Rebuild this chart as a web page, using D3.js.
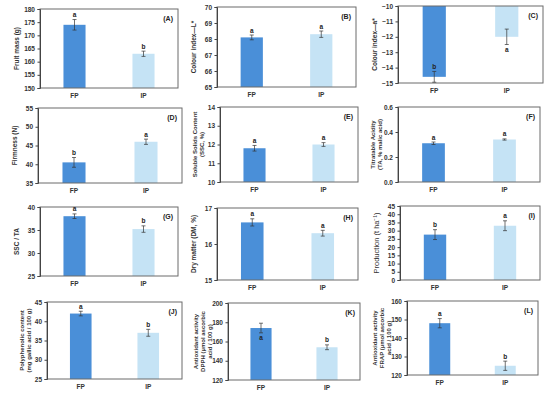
<!DOCTYPE html>
<html>
<head>
<meta charset="utf-8">
<script src="https://cdn.jsdelivr.net/npm/d3@7"></script>
<style>
  body { margin: 0; background: #fff; }
  svg { font-family: "Liberation Sans", Arial, sans-serif; }
</style>
</head>
<body>
<svg id="chart" width="550" height="400"></svg>
<script>
// categories and per-panel data
var groups = ["FP", "IP"];
var panelTags = ["(A)", "(B)", "(C)", "(D)", "(E)", "(F)", "(G)", "(H)", "(I)", "(J)", "(K)", "(L)"];
var yTitles = [
  ["Fruit mass (g)"],
  ["Colour index\u2014L*"],
  ["Colour index\u2014a*"],
  ["Firmness (N)"],
  ["Soluble Solids Content", "(SSC, %)"],
  ["Titratable Acidity", "(TA, % malic acid)"],
  ["SSC / TA"],
  ["Dry matter (DM, %)"],
  ["Production (t ha\u207B\u00B9)"],
  ["Polyphenolic content", "(mg gallic acid / 100 g)"],
  ["Antioxidant activity", "DPPH (\u00B5mol ascorbic", "acid / 100 g)"],
  ["Antioxidant activity", "FRAP (\u00B5mol ascorbic", "acid / 100 g)"]
];
var yDomains = [[150, 180], [65, 70], [-15, -10], [35, 55], [10, 14], [0, 0.6],
                [25, 40], [15, 17], [0, 45], [25, 45], [120, 200], [120, 160]];
var yStep = [5, 1, 1, 5, 1, 0.2, 5, 1, 5, 5, 20, 10];
// bars hang from the top in (C)
var barBase = [150, 65, -10, 35, 10, 0, 25, 15, 0, 25, 120, 120];

var fpMean = [174, 68.1, -14.6, 40.5, 11.8, 0.31, 38.0, 16.6, 27.6, 42.0, 174, 148];
var ipMean = [163, 68.3, -12.0, 46.0, 12.0, 0.34, 35.2, 16.3, 33.0, 37.0, 154, 125];
var fpErr  = [2.0, 0.15, 0.35, 1.3, 0.15, 0.01, 0.5, 0.1, 3.0, 0.6, 5, 2.5];
var ipErr  = [1.0, 0.2, 0.5, 0.7, 0.1, 0.005, 0.7, 0.08, 3.0, 0.9, 2.5, 2.5];
var fpLetter = ["a", "a", "b", "b", "a", "a", "a", "a", "b", "a", "a", "a"];
var ipLetter = ["b", "a", "a", "a", "a", "a", "b", "a", "a", "b", "b", "b"];
var fpLetterSide = ["up", "up", "up", "up", "up", "up", "up", "up", "up", "up", "down", "up"];
var ipLetterSide = ["up", "up", "down", "up", "up", "up", "up", "up", "up", "up", "up", "up"];

// plot rectangles [left, top, right, bottom]
var frames = [
  [40, 9, 178, 88], [217, 7, 356, 87], [398, 6, 543, 83],
  [38, 108, 182, 183], [220, 107, 358, 182], [398, 107, 540, 182],
  [40, 207, 178, 276], [217, 208, 358, 280], [400, 206, 540, 280],
  [47, 302, 182, 379], [228, 303, 360, 380], [407, 301, 538, 375]
];

var colors = { FP: "#4a8fd8", IP: "#c5e3f5" };

var svg = d3.select("#chart");

panelTags.forEach(function (tag, i) {
  var f = frames[i];
  var g = svg.append("g");

  var x = d3.scaleBand().domain(groups).range([f[0], f[2]]).paddingInner(0.68).paddingOuter(0.34);
  var y = d3.scaleLinear().domain(yDomains[i]).range([f[3], f[1]]);

  var rows = [
    { k: "FP", m: fpMean[i], e: fpErr[i], l: fpLetter[i], s: fpLetterSide[i] },
    { k: "IP", m: ipMean[i], e: ipErr[i], l: ipLetter[i], s: ipLetterSide[i] }
  ];

  // bars
  g.selectAll("rect.bar").data(rows).enter().append("rect")
    .attr("class", "bar")
    .attr("x", function (d) { return x(d.k); })
    .attr("width", x.bandwidth())
    .attr("y", function (d) { return Math.min(y(d.m), y(barBase[i])); })
    .attr("height", function (d) { return Math.abs(y(d.m) - y(barBase[i])); })
    .attr("fill", function (d) { return colors[d.k]; });

  // frame
  g.append("rect")
    .attr("x", f[0]).attr("y", f[1])
    .attr("width", f[2] - f[0]).attr("height", f[3] - f[1])
    .attr("fill", "none").attr("stroke", "#6b6b6b").attr("stroke-width", 1);

  // y axis
  var tickVals = d3.range(yDomains[i][0], yDomains[i][1] + yStep[i] / 2, yStep[i]);
  var fmt = yStep[i] < 1 ? d3.format(".1f") : d3.format("d");
  var ax = g.append("g")
    .attr("transform", "translate(" + f[0] + ",0)")
    .call(d3.axisLeft(y).tickValues(tickVals).tickFormat(function (v) { return fmt(v).replace("-", "\u2212"); })
      .tickSize(2.5).tickPadding(2.5));
  ax.select(".domain").attr("stroke", "#444");
  ax.selectAll(".tick line").attr("stroke", "#444");
  ax.selectAll(".tick text").attr("font-size", "6.5px").attr("font-weight", "bold").attr("fill", "#333");

  // category labels
  g.selectAll("text.cat").data(groups).enter().append("text")
    .attr("x", function (d) { return x(d) + x.bandwidth() / 2; })
    .attr("y", f[3] + 10)
    .attr("text-anchor", "middle")
    .attr("font-size", "6.5px").attr("font-weight", "bold").attr("fill", "#333")
    .text(function (d) { return d; });

  // error bars
  var eb = g.selectAll("g.err").data(rows).enter().append("g")
    .attr("stroke", "#333").attr("stroke-width", 0.7);
  eb.append("line")
    .attr("x1", function (d) { return x(d.k) + x.bandwidth() / 2; })
    .attr("x2", function (d) { return x(d.k) + x.bandwidth() / 2; })
    .attr("y1", function (d) { return y(d.m - d.e); })
    .attr("y2", function (d) { return y(d.m + d.e); });
  [-1, 1].forEach(function (sgn) {
    eb.append("line")
      .attr("x1", function (d) { return x(d.k) + x.bandwidth() / 2 - 2; })
      .attr("x2", function (d) { return x(d.k) + x.bandwidth() / 2 + 2; })
      .attr("y1", function (d) { return y(d.m + sgn * d.e); })
      .attr("y2", function (d) { return y(d.m + sgn * d.e); });
  });

  // significance letters
  g.selectAll("text.sig").data(rows).enter().append("text")
    .attr("x", function (d) { return x(d.k) + x.bandwidth() / 2; })
    .attr("y", function (d) {
      return d.s === "up" ? y(d.m + d.e) - 2.5 : y(d.m - d.e) + 7;
    })
    .attr("text-anchor", "middle")
    .attr("font-size", "6.5px").attr("font-weight", "bold").attr("fill", "#222")
    .text(function (d) { return d.l; });

  // panel tag
  g.append("text")
    .attr("x", f[2] - 5).attr("y", f[1] + 12)
    .attr("text-anchor", "end")
    .attr("font-size", "7px").attr("font-weight", "bold").attr("fill", "#222")
    .text(tag);

  // y title
  var lines = yTitles[i];
  var cy = (f[1] + f[3]) / 2;
  var lastX = lines.length > 1 ? f[0] - 18.5 : f[0] - 24;
  lines.forEach(function (line, j) {
    var lx = lastX - (lines.length - 1 - j) * 7;
    g.append("text")
      .attr("transform", "translate(" + lx + "," + cy + ") rotate(-90)")
      .attr("text-anchor", "middle")
      .attr("dominant-baseline", "central")
      .attr("font-size", i === 8 ? "7.5px" : (lines.length > 1 ? "6px" : "6.5px"))
      .attr("font-weight", i === 8 ? "normal" : "bold")
      .attr("fill", "#333")
      .text(line);
  });
});
</script>
</body>
</html>
